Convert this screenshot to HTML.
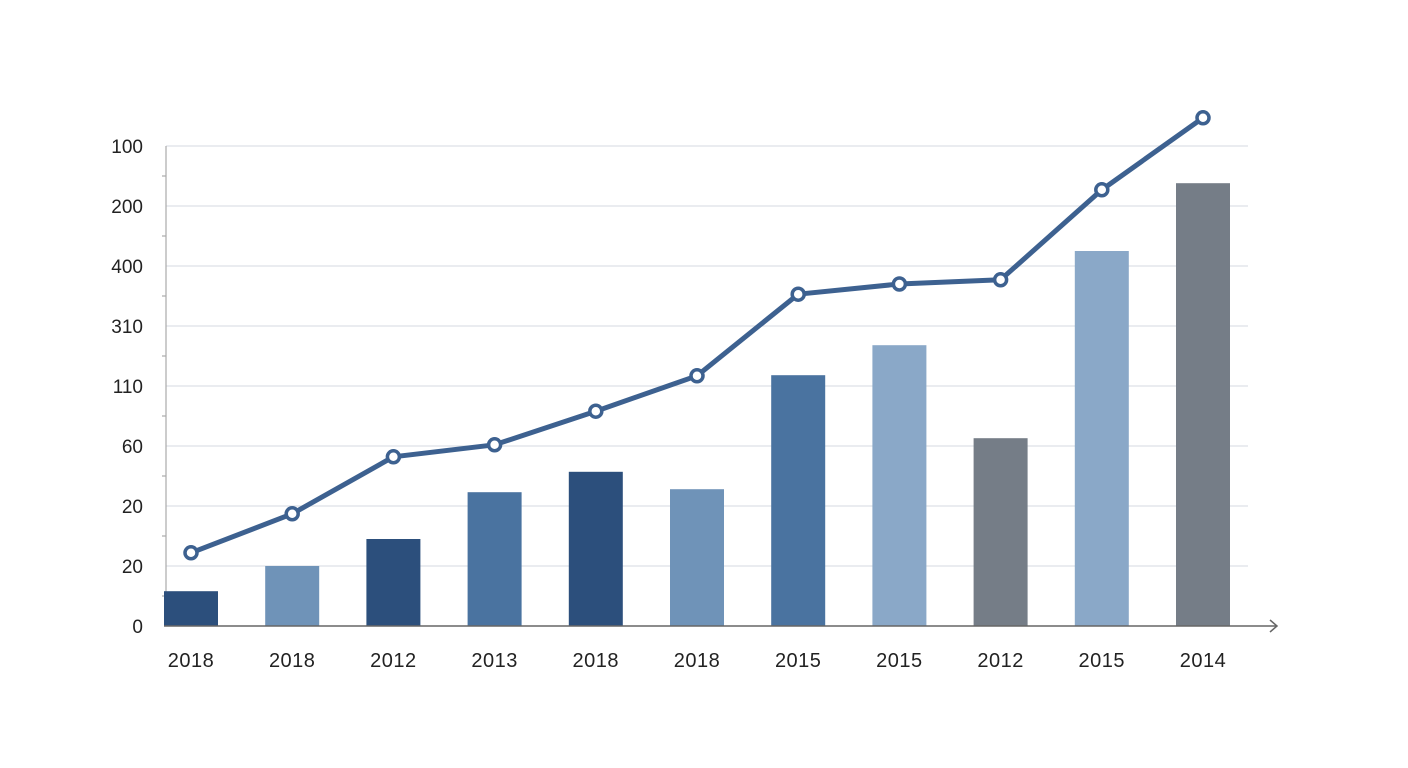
<!DOCTYPE html>
<html><head><meta charset="utf-8"><style>
html,body{margin:0;padding:0;background:#fff;}
svg{display:block;font-family:"Liberation Sans",sans-serif;}
</style></head><body>
<svg id="chart" width="1408" height="768"></svg>
<script>
const categories=["2018","2018","2012","2013","2018","2018","2015","2015","2012","2015","2014"];
const barValues=[0.58,1.0,1.45,2.23,2.57,2.28,4.18,4.68,3.13,6.25,7.38];
const lineValues=[1.22,1.87,2.82,3.02,3.58,4.17,5.53,5.7,5.77,7.27,8.47];
const yTickLabels=["0","20","20","60","110","310","400","200","100"];
const barColors=["#2c4f7c","#6f93b8","#2c4f7c","#4a73a0","#2c4f7c","#6f93b8","#4a73a0","#8aa8c8","#757d87","#8aa8c8","#757d87"];
const NS="http://www.w3.org/2000/svg";
const svg=document.getElementById('chart');
const y0=626,unit=60,x0=191,step=101.2;
const yScale=v=>y0-v*unit;
const xScale=i=>x0+i*step;
function mk(t,a){const e=document.createElementNS(NS,t);for(const k in a)e.setAttribute(k,a[k]);svg.appendChild(e);return e;}
yTickLabels.forEach((lab,i)=>{
  const y=yScale(i);
  if(i>0){const g=mk('line',{x1:166,x2:1248,y1:y,y2:y,stroke:'#dde1e6','stroke-width':1.2});
  
  
  const tk=mk('line',{x1:162,x2:166,y1:y+30,y2:y+30,stroke:'#999','stroke-width':1});
  
  }
  const t=mk('text',{x:143,y:y+7,'text-anchor':'end','font-size':19,fill:'#222'});t.textContent=lab;
  
  
});
const ya=mk('line',{x1:166,x2:166,y1:146,y2:626,stroke:'#aaa','stroke-width':1.2});


barValues.forEach((v,i)=>{
  const r=mk('rect',{x:xScale(i)-27,y:yScale(v),width:54,height:v*unit,fill:barColors[i]});
  
  
  const t=mk('text',{x:xScale(i),y:667,'text-anchor':'middle','font-size':20,fill:'#222','letter-spacing':'0.5'});t.textContent=categories[i];
  
  
});
const xa=mk('path',{d:'M164 626 H1277 M1270 620 L1277 626 L1270 632',stroke:'#666','stroke-width':1.5,fill:'none'});


const pl=mk('polyline',{points:lineValues.map((v,i)=>xScale(i)+','+yScale(v)).join(' '),fill:'none',stroke:'#3d6190','stroke-width':5,'stroke-linejoin':'round'});


lineValues.forEach((v,i)=>{
  const c=mk('circle',{cx:xScale(i),cy:yScale(v),r:6,fill:'#fff',stroke:'#3d6190','stroke-width':3.5});
  
  
});
</script>
</body></html>
